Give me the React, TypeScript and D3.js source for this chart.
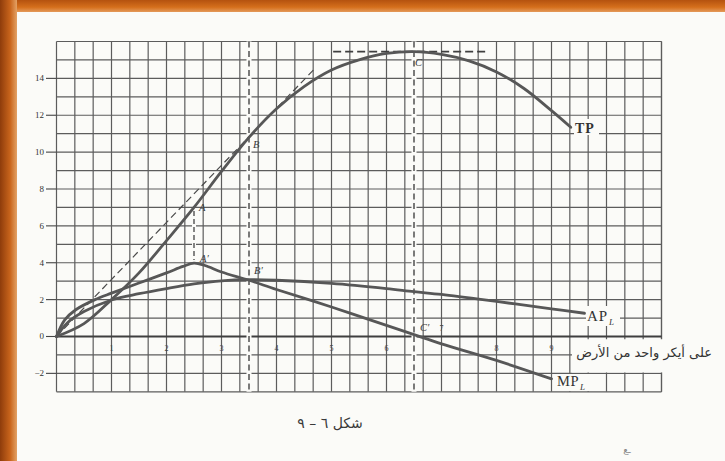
import React from "react";
import * as d3 from "d3";

// Labour units applied to one acre of land (x) and the three product curves.
const tpL = [0, 0.5, 1.0, 1.5, 2.0, 2.5, 3.0, 3.5, 4.0, 4.5, 5.0, 5.5, 6.0, 6.5, 7.0, 7.5, 8.0, 8.5, 9.0, 9.35];
const tpValues = [0, 0.7, 2.0, 3.45, 5.2, 7.0, 8.95, 10.8, 12.35, 13.55, 14.45, 15.0, 15.35, 15.45, 15.3, 14.95, 14.35, 13.45, 12.25, 11.35];

const apL = [0, 0.2, 0.5, 1.0, 1.5, 2.0, 2.5, 3.0, 3.5, 4.0, 5.0, 6.0, 6.5, 7.0, 8.0, 9.0, 9.6];
const apValues = [0, 0.75, 1.35, 1.98, 2.32, 2.6, 2.85, 3.02, 3.08, 3.05, 2.88, 2.6, 2.43, 2.28, 1.9, 1.5, 1.26];

const mpL = [0, 0.15, 0.35, 0.7, 1.0, 1.5, 2.0, 2.3, 2.5, 2.7, 3.0, 3.5, 4.0, 5.0, 6.0, 6.5, 7.0, 8.0, 9.0];
const mpValues = [0, 0.9, 1.45, 2.0, 2.35, 2.9, 3.45, 3.8, 3.98, 3.85, 3.5, 3.05, 2.55, 1.6, 0.6, 0.1, -0.4, -1.3, -2.3];

// Tangent from the origin to TP at B, and the guide lines
const tangentEnd = { l: 4.67, v: 14.45 };
const guideVerticals = [3.5, 6.5];
const pointA = { l: 2.5, top: 6.8, bottom: 4.15 };
const maxGuide = { from: 5.03, to: 7.85, v: 15.45 };

const yTicks = [14, 12, 10, 8, 6, 4, 2, 0, -2];
const xTicksBelow = [1, 2, 3, 4, 5, 6, 8, 9];
const xTicksAbove = [7];

const W = 725;
const H = 461;

export default function App() {
  const x = d3.scaleLinear().domain([0, 11]).range([56.5, 661.5]);
  const y = d3.scaleLinear().domain([-3, 16]).range([391.8, 41.5]);

  const gridX = d3.range(0, 34).map((i) => i / 3);
  const gridY = d3.range(-3, 17);

  const line = d3
    .line<[number, number]>()
    .x((d) => x(d[0]))
    .y((d) => y(d[1]))
    .curve(d3.curveCatmullRom.alpha(0.5));

  const tpPath = line(tpL.map((l, i) => [l, tpValues[i]]))!;
  const apPath = line(apL.map((l, i) => [l, apValues[i]]))!;
  const mpPath = line(mpL.map((l, i) => [l, mpValues[i]]))!;

  const paper = "#fbfbf8";
  const gridColor = "#5c5c5c";
  const curveColor = "#575757";
  const serif = "'Liberation Serif', 'DejaVu Serif', serif";
  const arabic = "'DejaVu Sans', sans-serif";

  return (
    <svg
      width={W}
      height={H}
      viewBox={`0 0 ${W} ${H}`}
      style={{ position: "absolute", left: 0, top: 0, display: "block" }}
    >
      <defs>
        <linearGradient id="frameTop" x1="0" y1="0" x2="0" y2="1">
          <stop offset="0" stopColor="#b4520f" />
          <stop offset="0.6" stopColor="#d56f1c" />
          <stop offset="1" stopColor="#e49a5a" />
        </linearGradient>
        <linearGradient id="frameLeft" x1="0" y1="0" x2="1" y2="0">
          <stop offset="0" stopColor="#8e3c0b" />
          <stop offset="0.6" stopColor="#c9651c" />
          <stop offset="1" stopColor="#e3a266" />
        </linearGradient>
      </defs>

      {/* page and frame */}
      <rect x={0} y={0} width={W} height={H} fill={paper} />
      <rect x={0} y={0} width={W} height={12} fill="url(#frameTop)" />
      <rect x={0} y={0} width={17} height={H} fill="url(#frameLeft)" />

      {/* grid */}
      <g stroke={gridColor} strokeWidth={1.2}>
        {gridX.map((g) => (
          <line key={`gx${g}`} x1={x(g)} x2={x(g)} y1={y(16)} y2={y(-3)} />
        ))}
        <line x1={x(11)} x2={x(11)} y1={y(16)} y2={y(-3)} />
        {gridY.map((g) => (
          <line
            key={`gy${g}`}
            x1={x(0)}
            x2={x(11)}
            y1={y(g)}
            y2={y(g)}
            strokeWidth={g === 0 ? 1.8 : 1.2}
            stroke={g === 0 ? "#3f3f3f" : gridColor}
          />
        ))}
      </g>

      {/* cleared area for the horizontal axis title */}
      <rect x={572} y={y(-0.15)} width={150} height={y(-1.95) - y(-0.15)} fill={paper} />

      {/* y axis ticks and labels */}
      <g fontFamily={serif} fontSize={9} fill="#333">
        {yTicks.map((t) => (
          <g key={`yt${t}`}>
            <line x1={46} x2={x(0)} y1={y(t)} y2={y(t)} stroke="#444" strokeWidth={1.1} />
            <text x={44} y={y(t) + 3} textAnchor="end">
              {t < 0 ? `−${-t}` : t}
            </text>
          </g>
        ))}
      </g>

      {/* x axis labels */}
      <g fontFamily={serif} fontSize={8} fill="#444">
        {xTicksBelow.map((t) => (
          <text key={`xt${t}`} x={x(t)} y={351} textAnchor="middle">
            {t}
          </text>
        ))}
        {xTicksAbove.map((t) => (
          <text key={`xa${t}`} x={x(t)} y={331} textAnchor="middle">
            {t}
          </text>
        ))}
      </g>

      {/* vertical guide lines at B and C */}
      {guideVerticals.map((g) => (
        <g key={`gv${g}`}>
          <line x1={x(g)} x2={x(g)} y1={y(16)} y2={y(-3)} stroke={paper} strokeWidth={5} />
          <line
            x1={x(g)}
            x2={x(g)}
            y1={y(16)}
            y2={y(-3)}
            stroke="#444"
            strokeWidth={1.4}
            strokeDasharray="6,3.5"
          />
        </g>
      ))}

      {/* A to A' drop line */}
      <line
        x1={x(pointA.l)}
        x2={x(pointA.l)}
        y1={y(pointA.top)}
        y2={y(pointA.bottom)}
        stroke={paper}
        strokeWidth={4}
      />
      <line
        x1={x(pointA.l)}
        x2={x(pointA.l)}
        y1={y(pointA.top)}
        y2={y(pointA.bottom)}
        stroke="#444"
        strokeWidth={1.3}
        strokeDasharray="5,3"
      />

      {/* maximum of TP */}
      <line
        x1={x(maxGuide.from)}
        x2={x(maxGuide.to)}
        y1={y(maxGuide.v)}
        y2={y(maxGuide.v)}
        stroke="#3f3f3f"
        strokeWidth={1.6}
        strokeDasharray="8,4"
      />

      {/* tangent ray from the origin */}
      <line
        x1={x(0)}
        y1={y(0)}
        x2={x(tangentEnd.l)}
        y2={y(tangentEnd.v)}
        stroke="#4a4a4a"
        strokeWidth={1.2}
        strokeDasharray="7,4"
      />

      {/* product curves */}
      <g fill="none" stroke={curveColor} strokeWidth={2.8} strokeLinecap="round" strokeLinejoin="round">
        <path d={apPath} />
        <path d={mpPath} />
        <path d={tpPath} />
      </g>

      {/* point labels */}
      <g fontFamily={serif} fontStyle="italic" fontSize={10.5} fill="#3c3c3c">
        <text x={x(2.5) + 5} y={y(7.0) + 4}>A</text>
        <text x={x(2.5) + 6} y={y(4.0) - 1}>A′</text>
        <text x={x(3.5) + 4} y={y(10.8) + 11}>B</text>
        <text x={x(3.5) + 5} y={y(3.08) - 6}>B′</text>
        <text x={x(6.5) + 1} y={y(15.45) + 14}>C</text>
        <text x={x(6.5) + 6} y={y(0) - 5}>C′</text>
      </g>

      {/* curve names */}
      <g fontFamily={serif} fill="#333">
        <rect x={574} y={119} width={25} height={16} fill={paper} />
        <text x={575} y={133} fontSize={14} fontWeight="bold" letterSpacing={1}>TP</text>

        <rect x={586} y={306} width={34} height={20} fill={paper} />
        <text x={587} y={321} fontSize={15} letterSpacing={1}>AP</text>
        <text x={609} y={325} fontSize={9} fontStyle="italic">L</text>

        <rect x={556} y={374} width={34} height={17} fill={paper} />
        <text x={557} y={386} fontSize={14.5} letterSpacing={0.5}>MP</text>
        <text x={580} y={390} fontSize={9} fontStyle="italic">L</text>
      </g>

      {/* horizontal axis title */}
      <text
        x={712}
        y={357}
        textAnchor="start"
        direction="rtl"
        fontFamily={arabic}
        fontSize={13}
        fill="#333"
      >
        على أيكر واحد من الأرض
      </text>

      {/* figure caption */}
      <text
        x={330}
        y={428}
        textAnchor="middle"
        direction="rtl"
        fontFamily={arabic}
        fontSize={14}
        fill="#3a3a3a"
      >
        شكل ٦ – ٩
      </text>
      <text x={627} y={453} fontFamily={arabic} fontSize={9} fill="#888" textAnchor="middle">
        ـع
      </text>
    </svg>
  );
}
